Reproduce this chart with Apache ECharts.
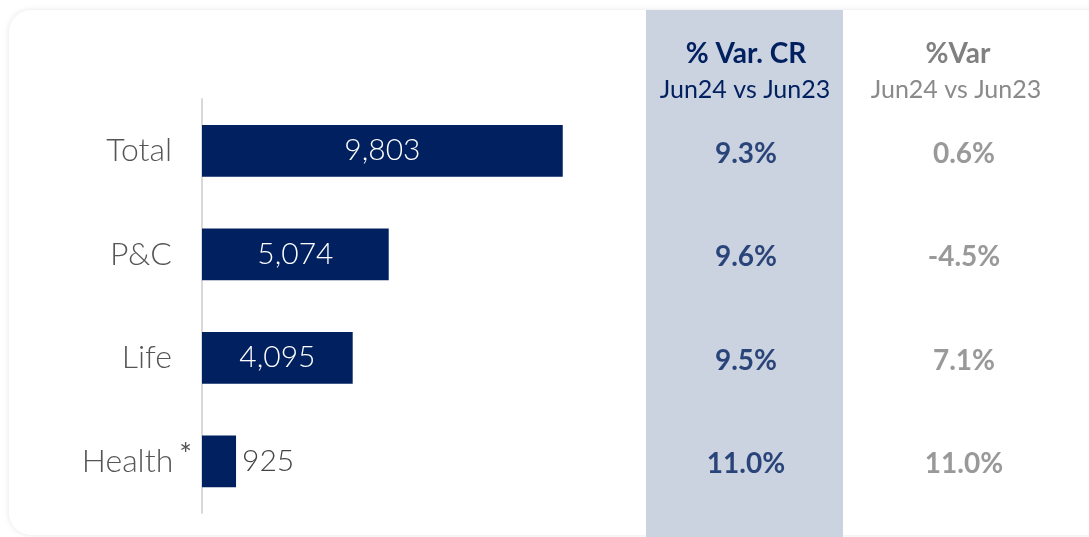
<!DOCTYPE html>
<html>
<head>
<meta charset="utf-8">
<script src="https://cdn.jsdelivr.net/npm/echarts@6/dist/echarts.min.js"></script>
<style>
  html, body { margin: 0; padding: 0; background: #fff; }
  #chart { width: 1089px; height: 537px; }
</style>
</head>
<body>
<div id="chart"></div>
<script>
// data
const categories = ['Total', 'P&C', 'Life', 'Health']
const premiums = [9803, 5074, 4095, 925]
const varCR = ['9.3%', '9.6%', '9.5%', '11.0%']
const varPct = ['0.6%', '-4.5%', '7.1%', '11.0%']

const navy = '#00205f'
const grey = '#808080'
const font = 'Lato, "Open Sans", sans-serif'

const chart = echarts.init(document.getElementById('chart'))

// one scatter point per row, only its label is shown
function textColumn(index, values, color) {
  return {
    type: 'scatter',
    xAxisIndex: index,
    yAxisIndex: index,
    symbolSize: 0,
    silent: true,
    data: values.map((v, i) => [0, categories[i]]),
    label: {
      show: true,
      position: 'inside',
      offset: [0, 3],
      formatter: p => values[p.dataIndex],
      color: color,
      fontFamily: font,
      fontWeight: 'bold',
      fontSize: 28
    }
  }
}

const hiddenY = idx => ({
  type: 'category', gridIndex: idx, data: categories, inverse: true, show: false
})
const hiddenX = idx => ({
  type: 'category', gridIndex: idx, data: ['c'], show: false
})

const header = (x, y, text, color, weight, size) => ({
  type: 'text', x: x, y: y,
  style: { text: text, fill: color, font: weight + ' ' + size + 'px ' + font, align: 'center', verticalAlign: 'middle' }
})

const option = {
  backgroundColor: '#fff',
  graphic: [
    {
      type: 'rect', z: -10,
      shape: { x: 9, y: 10, width: 1120, height: 525, r: 22 },
      style: { fill: '#fff', shadowBlur: 6, shadowColor: 'rgba(0,0,0,0.10)' }
    },
    {
      type: 'rect', z: -9,
      shape: { x: 646, y: 10, width: 197, height: 527 },
      style: { fill: '#cbd2e0' }
    },
    header(746, 54, '% Var. CR', navy, 'bold', 28),
    header(745, 90, 'Jun24 vs Jun23', navy, 'normal', 25),
    header(958, 54, '%Var', grey, 'bold', 28),
    header(956, 90, 'Jun24 vs Jun23', '#8a8a8a', 'normal', 25)
  ],
  grid: [
    { left: 202, right: 519, top: 99, bottom: 24 },
    { left: 646, width: 200, top: 99, bottom: 24 },
    { left: 864, width: 200, top: 99, bottom: 24 }
  ],
  xAxis: [
    { type: 'value', gridIndex: 0, min: 0, max: 10000, show: false },
    hiddenX(1),
    hiddenX(2)
  ],
  yAxis: [
    {
      type: 'category',
      gridIndex: 0,
      data: categories,
      inverse: true,
      axisLine: { show: true, lineStyle: { color: '#d9d9d9', width: 2 } },
      axisTick: { show: false },
      axisLabel: {
        margin: 10,
        formatter: v => v === 'Health' ? '{h|' + v + '}{sup|*}' : '{n|' + v + '}',
        rich: {
          n: { fontFamily: font, fontWeight: 300, fontSize: 32, color: '#555', padding: [0, 20, 0, 0] },
          h: { fontFamily: font, fontWeight: 300, fontSize: 32, color: '#555' },
          sup: { fontFamily: font, fontSize: 30, color: '#555', padding: [0, 0, 12, 6] }
        }
      }
    },
    hiddenY(1),
    hiddenY(2)
  ],
  series: [
    {
      type: 'bar',
      data: premiums.map((v, i) => ({
        value: v,
        label: i === 3 ? { position: 'right', color: '#444', distance: 6 } : {}
      })),
      barCategoryGap: '50%',
      itemStyle: { color: navy },
      label: {
        show: true,
        position: 'inside',
        color: '#fff',
        fontFamily: font,
        fontWeight: 300,
        fontSize: 30,
        formatter: p => p.value.toLocaleString('en-US')
      }
    },
    textColumn(1, varCR, navy),
    textColumn(2, varPct, grey)
  ]
}

chart.setOption(option)
</script>
</body>
</html>
